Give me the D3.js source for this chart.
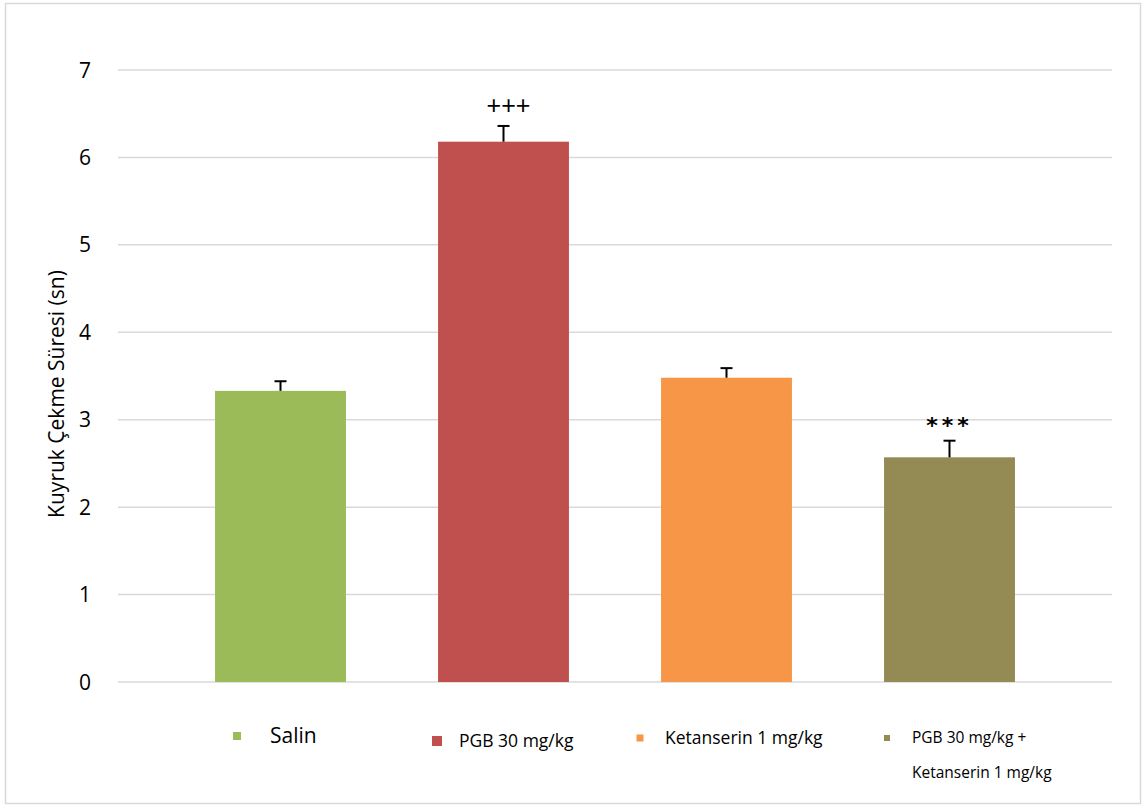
<!DOCTYPE html>
<html>
<head>
<meta charset="utf-8">
<script src="https://cdn.jsdelivr.net/npm/d3@7"></script>
<style>
  html, body { margin: 0; padding: 0; background: #fff; }
  svg { display: block; }
</style>
</head>
<body>
<svg id="chart" width="1144" height="807"></svg>
<script>
// Group names, means and upper error values (seconds)
const groups = ["Salin", "PGB 30 mg/kg", "Ketanserin 1 mg/kg", "PGB 30 mg/kg + Ketanserin 1 mg/kg"];
const means = [3.33, 6.18, 3.48, 2.57];
const errors = [0.11, 0.18, 0.11, 0.19];
const marks = ["", "+++", "", "***"];
const colors = ["#9BBB59", "#C0504D", "#F79646", "#948A54"];
const yTicks = [0, 1, 2, 3, 4, 5, 6, 7];

const svg = d3.select("#chart");

// outer frame
svg.append("rect")
  .attr("x", 5.5).attr("y", 3.5).attr("width", 1135).attr("height", 800)
  .attr("fill", "#fff").attr("stroke", "#d9d9d9").attr("stroke-width", 1.5);

const y = d3.scaleLinear().domain([0, 7]).range([682, 70]);
const x = d3.scaleBand().domain(groups).range([169, 1061])
  .paddingInner(0.413).paddingOuter(0.2065);

const gridLeft = 118, gridRight = 1112;

// horizontal gridlines
svg.append("g").selectAll("line").data(yTicks).join("line")
  .attr("x1", gridLeft).attr("x2", gridRight)
  .attr("y1", d => y(d)).attr("y2", d => y(d))
  .attr("stroke", "#d9d9d9").attr("stroke-width", 1.5);

// y tick labels
svg.append("g").selectAll("text").data(yTicks).join("text")
  .attr("x", 91).attr("y", d => y(d))
  .attr("dy", "0.36em")
  .attr("text-anchor", "end")
  .attr("font-family", "'Open Sans', 'DejaVu Sans', sans-serif")
  .attr("font-size", 21)
  .attr("fill", "#000")
  .text(d => d);

// y axis title
svg.append("text")
  .attr("transform", "translate(64,394) rotate(-90)")
  .attr("text-anchor", "middle")
  .attr("font-family", "'Open Sans', 'DejaVu Sans', sans-serif")
  .attr("font-size", 21)
  .attr("fill", "#000")
  .text("Kuyruk Çekme Süresi (sn)");

// bars
svg.append("g").selectAll("rect").data(groups).join("rect")
  .attr("x", d => x(d))
  .attr("y", (d, i) => y(means[i]))
  .attr("width", x.bandwidth())
  .attr("height", (d, i) => y(0) - y(means[i]))
  .attr("fill", (d, i) => colors[i]);

// upper error whiskers
const eg = svg.append("g").attr("stroke", "#000").attr("stroke-width", 2);
groups.forEach((g, i) => {
  const cx = x(g) + x.bandwidth() / 2;
  eg.append("line")
    .attr("x1", cx).attr("x2", cx)
    .attr("y1", y(means[i])).attr("y2", y(means[i] + errors[i]));
  eg.append("line")
    .attr("x1", cx - 6).attr("x2", cx + 6)
    .attr("y1", y(means[i] + errors[i])).attr("y2", y(means[i] + errors[i]));
});

// significance marks
const markStyle = {
  "+++": { font: "'Liberation Sans', Arial, sans-serif", size: 25, dx: 5, dy: -12, spacing: 0, weight: "normal" },
  "***": { font: "'DejaVu Sans', sans-serif", size: 22, dx: 0, dy: -8, spacing: 4, weight: "bold" }
};
groups.forEach((g, i) => {
  const m = marks[i];
  if (!m) return;
  const s = markStyle[m];
  svg.append("text")
    .attr("x", x(g) + x.bandwidth() / 2 + s.dx)
    .attr("y", y(means[i] + errors[i]) + s.dy)
    .attr("text-anchor", "middle")
    .attr("font-family", s.font)
    .attr("font-size", s.size)
    .attr("font-weight", s.weight)
    .attr("letter-spacing", s.spacing)
    .attr("fill", "#000")
    .text(m);
});

// legend
const legendFont = "'Open Sans', sans-serif";
const legend = [
  { x: 237, y: 736, s: 8, tx: 270, size: 21, lines: [groups[0]] },
  { x: 437, y: 741, s: 10, tx: 459, size: 17.5, lines: [groups[1]] },
  { x: 640, y: 738, s: 7, tx: 665, size: 17.5, lines: [groups[2]] },
  { x: 887, y: 738, s: 6, tx: 912, size: 15.5, lines: ["PGB 30 mg/kg +", "Ketanserin 1 mg/kg"] }
];
legend.forEach((l, i) => {
  svg.append("rect")
    .attr("x", l.x - l.s / 2).attr("y", l.y - l.s / 2)
    .attr("width", l.s).attr("height", l.s)
    .attr("fill", colors[i]);
  l.lines.forEach((t, j) => {
    svg.append("text")
      .attr("x", l.tx).attr("y", l.y + j * 35)
      .attr("dy", "0.35em")
      .attr("font-family", legendFont)
      .attr("font-size", l.size)
      .attr("fill", "#000")
      .text(t);
  });
});
</script>
</body>
</html>
